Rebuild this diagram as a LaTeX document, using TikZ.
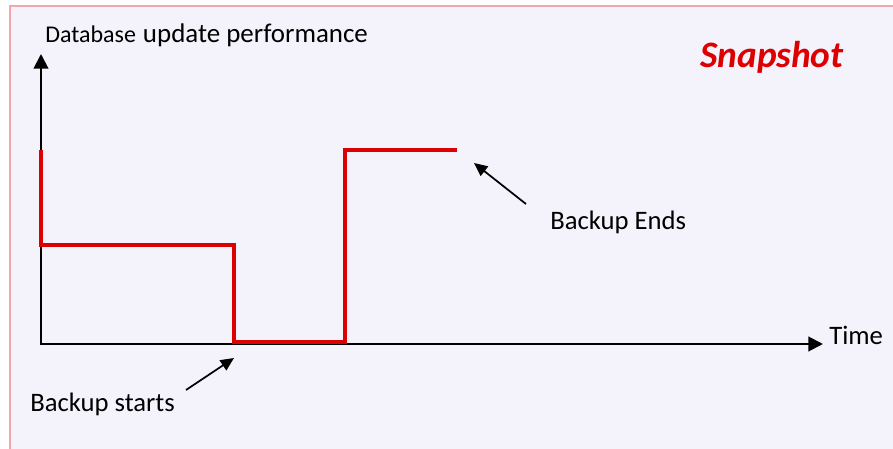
\documentclass[tikz,border=0pt]{standalone}
\usepackage{fontspec}
\setmainfont{Carlito}
\usetikzlibrary{arrows.meta}
\definecolor{bgc}{HTML}{F4F3FC}
\definecolor{framec}{HTML}{F2A7AD}
\definecolor{redc}{HTML}{DD0000}
\begin{document}
\begin{tikzpicture}[x=0.75pt,y=-0.75pt,
  axis/.style={line width=1.5pt, -{Triangle[length=11pt,width=11pt]}},
  note/.style={line width=1.3pt, -{Triangle[length=10pt,width=9pt]}},
  curve/.style={line width=3pt, draw=redc, line join=miter},
  lbl/.style={font=\fontsize{20}{23}\selectfont, inner sep=0pt, anchor=base west}]
\useasboundingbox (0,0) rectangle (893,449);
\fill[white] (0,0) rectangle (893,449);
\draw[framec, line width=1.5pt, fill=bgc] (10,6) rectangle (905,465);
% axes
\coordinate (O) at (41,345);
\coordinate (ytip) at (41,54);
\coordinate (xtip) at (823,344);
\draw[axis] (O) -- (ytip);
\draw[axis] (41,344) -- (xtip);
% red curve
\coordinate (p1) at (41,150);
\coordinate (p2) at (41,245);
\coordinate (p3) at (234,245);
\coordinate (p4) at (234,342);
\coordinate (p5) at (345,342);
\coordinate (p6) at (345,150);
\coordinate (p7) at (457,150);
\draw[curve] (p1) -- (p2) -- (p3) -- (p4) -- (p5) -- (p6) -- (p7);
% labels
\node[anchor=base west, inner sep=0pt] (ylabel) at (45,43)
  {{\fontsize{18}{21}\selectfont Database}\hspace{3pt} {\fontsize{20.2}{24}\selectfont update performance}};
\node[lbl] (time) at (829,344) {Time};
\node[lbl] (ends) at (550,230) {Backup Ends};
\node[lbl] (starts) at (30,411) {Backup starts};
\node[anchor=base west, inner sep=0pt, text=redc,
  font=\fontsize{28}{32}\selectfont\bfseries\itshape] (snap) at (700,68) {Snapshot};
% annotation arrows
\coordinate (endstail) at (526,204);
\coordinate (endstip) at (474,163);
\draw[note] (endstail) -- (endstip);
\coordinate (startstail) at (186,390);
\coordinate (startstip) at (234,358);
\draw[note] (startstail) -- (startstip);
\end{tikzpicture}
\end{document}
